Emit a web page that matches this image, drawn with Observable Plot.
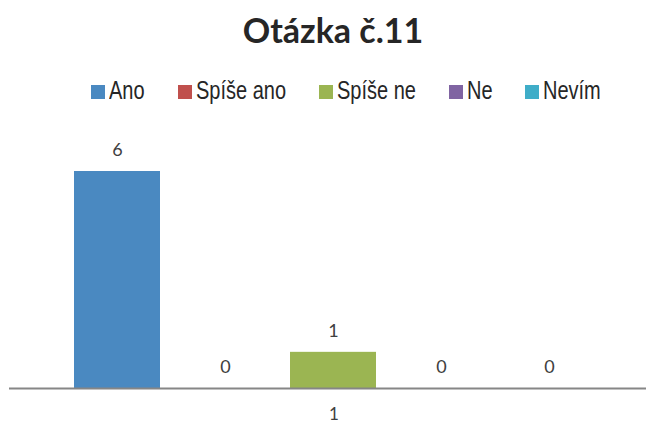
<!DOCTYPE html>
<html>
<head>
<meta charset="utf-8">
<script src="https://cdn.jsdelivr.net/npm/d3@7"></script>
<script src="https://cdn.jsdelivr.net/npm/@observablehq/plot@0.6"></script>
<style>
  html, body { margin: 0; padding: 0; background: #fff; }
  #wrap { width: 646px; height: 424px; overflow: hidden; }
  #title { height: 62px; line-height: 60px; padding-left: 20px; text-align: center; white-space: nowrap;
           font-family: Lato, "Open Sans", sans-serif; font-weight: 700; font-size: 34px; color: #262626; box-sizing: border-box; }
  #legend { height: 52px; display: flex; align-items: center; padding-left: 91px; padding-top: 4px; box-sizing: border-box; white-space: nowrap;
            font-family: "Liberation Sans", Arial, sans-serif; font-size: 25px; color: #262626; }
  .item { display: flex; align-items: center; margin-right: 33px; flex: none; }
  .sw { width: 14px; height: 14px; margin-right: 4px; margin-top: 3px; flex: none; }
  .lt { display: inline-block; transform: scaleX(0.8); transform-origin: left center; }
  #chart svg { display: block; }
</style>
</head>
<body>
<div id="wrap">
  <div id="title">Otázka č.11</div>
  <div id="legend"></div>
  <div id="chart"></div>
</div>
<script>
const groupLabels = ["1"];
const series = ["Ano", "Spíše ano", "Spíše ne", "Ne", "Nevím"];
const values = [6, 0, 1, 0, 0];
const colors = ["#4a89c1", "#c0504d", "#9bb552", "#8064a2", "#3fadc8"];

const data = series.map((s, i) => ({ group: groupLabels[0], series: s, value: values[i] }));

const legend = document.getElementById("legend");
series.forEach((s, i) => {
  const it = document.createElement("div");
  it.className = "item";
  const sw = document.createElement("span");
  sw.className = "sw";
  sw.style.background = colors[i];
  const t = document.createElement("span");
  t.className = "lt";
  t.textContent = s;
  it.appendChild(sw); it.appendChild(t);
  legend.appendChild(it);
  const w = t.getBoundingClientRect().width; // scaled width
  t.style.marginRight = (-(w / 0.8) * 0.2) + "px";
});

const chart = Plot.plot({
  width: 646,
  height: 310,
  marginLeft: 9,
  marginRight: -12,
  marginTop: 57,
  marginBottom: 36,
  style: { fontFamily: "Lato, 'Open Sans', sans-serif", fontSize: "17px", color: "#404040", background: "white" },
  fx: { domain: groupLabels, padding: 0, axis: "bottom", tickSize: 0, tickPadding: 19, label: null },
  x: { domain: series, paddingInner: 0.2, paddingOuter: 0.6, axis: null },
  y: { domain: [0, 6], axis: null },
  color: { domain: series, range: colors },
  marks: [
    Plot.barY(data, { fx: "group", x: "series", y: "value", fill: "series" }),
    Plot.ruleY([0], { stroke: "#868686", strokeWidth: 2 }),
    Plot.text(data, { fx: "group", x: "series", y: "value", text: d => String(d.value), dy: -21, fontSize: 18, fill: "#404040" })
  ]
});
document.getElementById("chart").appendChild(chart);
</script>
</body>
</html>
